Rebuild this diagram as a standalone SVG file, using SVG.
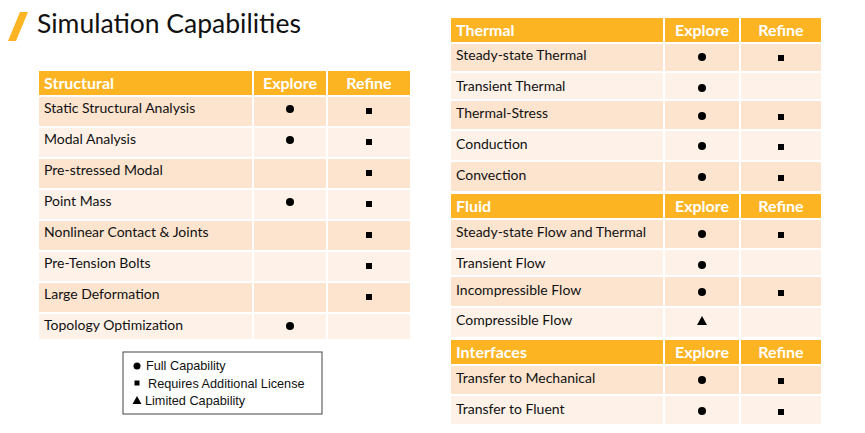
<svg xmlns="http://www.w3.org/2000/svg" width="865" height="433" viewBox="0 0 865 433">
<style>
.h{fill:#FDB422}.a{fill:#FCE4CF}.b{fill:#FEF2E8}
rect.h,rect.a,rect.b{stroke:#fff;stroke-width:2}
text{font-family:Lato,"Open Sans",sans-serif;font-size:14px;fill:#111}
.ht{font-weight:bold;font-size:16px;fill:#fff}
.c{text-anchor:middle}
.lg{font-family:"Liberation Sans",Arial,sans-serif;font-size:12.7px}
</style>
<defs>
<circle id="d" r="4" fill="#000"/>
<rect id="s" x="-3" y="-3" width="6" height="6" fill="#000"/>
<path id="t" d="M0,-5 L5,4 L-5,4 Z" fill="#000"/>
</defs>
<rect width="865" height="433" fill="#fff"/>
<g id="title">
<path d="M20,12 L28,12 L16,41 L8,41 Z" fill="#FDB422"/>
<text x="37" y="33" style="font-size:26.5px">Simulation Capabilities</text>
</g>
<g id="structural">
<rect class="h" x="38" y="70" width="215" height="26"/><rect class="h" x="253" y="70" width="74" height="26"/><rect class="h" x="327" y="70" width="84" height="26"/>
<text class="ht" x="44" y="89">Structural</text><text class="ht c" x="290" y="89">Explore</text><text class="ht c" x="369" y="89">Refine</text>
<g>
<rect class="a" x="38" y="96" width="215" height="31"/><rect class="a" x="253" y="96" width="74" height="31"/><rect class="a" x="327" y="96" width="84" height="31"/>
<rect class="b" x="38" y="127" width="215" height="31"/><rect class="b" x="253" y="127" width="74" height="31"/><rect class="b" x="327" y="127" width="84" height="31"/>
<rect class="a" x="38" y="158" width="215" height="31"/><rect class="a" x="253" y="158" width="74" height="31"/><rect class="a" x="327" y="158" width="84" height="31"/>
<rect class="b" x="38" y="189" width="215" height="31"/><rect class="b" x="253" y="189" width="74" height="31"/><rect class="b" x="327" y="189" width="84" height="31"/>
<rect class="a" x="38" y="220" width="215" height="31"/><rect class="a" x="253" y="220" width="74" height="31"/><rect class="a" x="327" y="220" width="84" height="31"/>
<rect class="b" x="38" y="251" width="215" height="31"/><rect class="b" x="253" y="251" width="74" height="31"/><rect class="b" x="327" y="251" width="84" height="31"/>
<rect class="a" x="38" y="282" width="215" height="31"/><rect class="a" x="253" y="282" width="74" height="31"/><rect class="a" x="327" y="282" width="84" height="31"/>
<rect class="b" x="38" y="313" width="215" height="27"/><rect class="b" x="253" y="313" width="74" height="27"/><rect class="b" x="327" y="313" width="84" height="27"/>
</g>
<text x="44" y="113">Static Structural Analysis</text><use href="#d" x="290" y="109"/><use href="#s" x="369" y="111"/>
<text x="44" y="144">Modal Analysis</text><use href="#d" x="290" y="140"/><use href="#s" x="369" y="142"/>
<text x="44" y="175">Pre-stressed Modal</text><use href="#s" x="369" y="173"/>
<text x="44" y="206">Point Mass</text><use href="#d" x="290" y="202"/><use href="#s" x="369" y="204"/>
<text x="44" y="237">Nonlinear Contact &amp; Joints</text><use href="#s" x="369" y="235"/>
<text x="44" y="268">Pre-Tension Bolts</text><use href="#s" x="369" y="266"/>
<text x="44" y="299">Large Deformation</text><use href="#s" x="369" y="297"/>
<text x="44" y="330">Topology Optimization</text><use href="#d" x="290" y="326"/>
</g>
<g id="thermal">
<rect class="h" x="450" y="17" width="214" height="26"/><rect class="h" x="664" y="17" width="76" height="26"/><rect class="h" x="740" y="17" width="82" height="26"/>
<text class="ht" x="456" y="36">Thermal</text><text class="ht c" x="702" y="36">Explore</text><text class="ht c" x="781" y="36">Refine</text>
<rect class="a" x="450" y="43" width="214" height="29"/><rect class="a" x="664" y="43" width="76" height="29"/><rect class="a" x="740" y="43" width="82" height="29"/>
<rect class="b" x="450" y="72" width="214" height="28"/><rect class="b" x="664" y="72" width="76" height="28"/><rect class="b" x="740" y="72" width="82" height="28"/>
<rect class="a" x="450" y="100" width="214" height="30"/><rect class="a" x="664" y="100" width="76" height="30"/><rect class="a" x="740" y="100" width="82" height="30"/>
<rect class="b" x="450" y="130" width="214" height="31"/><rect class="b" x="664" y="130" width="76" height="31"/><rect class="b" x="740" y="130" width="82" height="31"/>
<rect class="a" x="450" y="161" width="214" height="31"/><rect class="a" x="664" y="161" width="76" height="31"/><rect class="a" x="740" y="161" width="82" height="31"/>
<text x="456" y="60">Steady-state Thermal</text><use href="#d" x="702" y="57"/><use href="#s" x="781" y="58"/>
<text x="456" y="91">Transient Thermal</text><use href="#d" x="702" y="88"/>
<text x="456" y="118">Thermal-Stress</text><use href="#d" x="702" y="116"/><use href="#s" x="781" y="117"/>
<text x="456" y="149">Conduction</text><use href="#d" x="702" y="146"/><use href="#s" x="781" y="147"/>
<text x="456" y="180">Convection</text><use href="#d" x="702" y="177"/><use href="#s" x="781" y="178"/>
</g>
<g id="fluid">
<rect class="h" x="450" y="193" width="214" height="26"/><rect class="h" x="664" y="193" width="76" height="26"/><rect class="h" x="740" y="193" width="82" height="26"/>
<text class="ht" x="456" y="212">Fluid</text><text class="ht c" x="702" y="212">Explore</text><text class="ht c" x="781" y="212">Refine</text>
<rect class="a" x="450" y="219" width="214" height="30"/><rect class="a" x="664" y="219" width="76" height="30"/><rect class="a" x="740" y="219" width="82" height="30"/>
<rect class="b" x="450" y="249" width="214" height="27"/><rect class="b" x="664" y="249" width="76" height="27"/><rect class="b" x="740" y="249" width="82" height="27"/>
<rect class="a" x="450" y="276" width="214" height="31"/><rect class="a" x="664" y="276" width="76" height="31"/><rect class="a" x="740" y="276" width="82" height="31"/>
<rect class="b" x="450" y="307" width="214" height="31"/><rect class="b" x="664" y="307" width="76" height="31"/><rect class="b" x="740" y="307" width="82" height="31"/>
<text x="456" y="237">Steady-state Flow and Thermal</text><use href="#d" x="702" y="234"/><use href="#s" x="781" y="235"/>
<text x="456" y="268">Transient Flow</text><use href="#d" x="702" y="265"/>
<text x="456" y="295">Incompressible Flow</text><use href="#d" x="702" y="292"/><use href="#s" x="781" y="293"/>
<text x="456" y="325">Compressible Flow</text><use href="#t" x="702" y="321"/>
</g>
<g id="interfaces">
<rect class="h" x="450" y="339" width="214" height="26"/><rect class="h" x="664" y="339" width="76" height="26"/><rect class="h" x="740" y="339" width="82" height="26"/>
<text class="ht" x="456" y="358">Interfaces</text><text class="ht c" x="702" y="358">Explore</text><text class="ht c" x="781" y="358">Refine</text>
<rect class="a" x="450" y="365" width="214" height="30"/><rect class="a" x="664" y="365" width="76" height="30"/><rect class="a" x="740" y="365" width="82" height="30"/>
<rect class="b" x="450" y="395" width="214" height="30"/><rect class="b" x="664" y="395" width="76" height="30"/><rect class="b" x="740" y="395" width="82" height="30"/>
<text x="456" y="383">Transfer to Mechanical</text><use href="#d" x="702" y="380"/><use href="#s" x="781" y="381"/>
<text x="456" y="414">Transfer to Fluent</text><use href="#d" x="702" y="411"/><use href="#s" x="781" y="412"/>
</g>
<g id="legend">
<rect x="123" y="352" width="199" height="62" fill="#fff" stroke="#444" stroke-width="1"/>
<circle cx="137" cy="366" r="3.5" fill="#000"/><text class="lg" x="146" y="370">Full Capability</text>
<rect x="134.5" y="380.5" width="5" height="5" fill="#000"/><text class="lg" x="148" y="388">Requires Additional License</text>
<path d="M137,396 L141.5,404 L132.5,404 Z" fill="#000"/><text class="lg" x="145" y="405">Limited Capability</text>
</g>
</svg>
